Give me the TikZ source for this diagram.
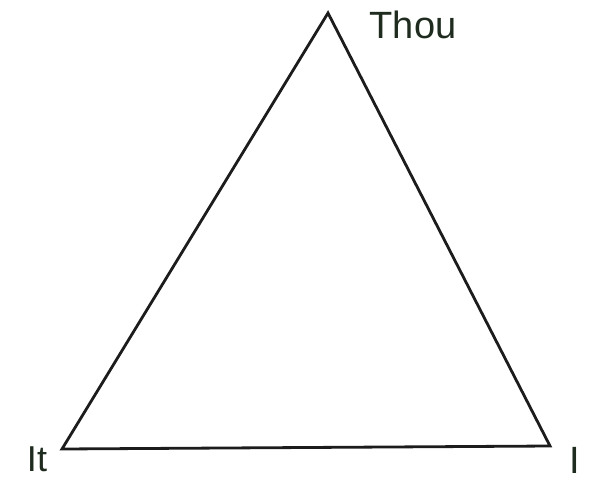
\documentclass[tikz,border=0pt]{standalone}
\usepackage{fontspec}
\setmainfont{Liberation Sans}
\definecolor{ink}{HTML}{1C1C1C}
\definecolor{penink}{HTML}{1E2B1E}
\begin{document}
\begin{tikzpicture}[x=1pt,y=-1pt,
  edge/.style={draw=ink,line width=2.8pt,line join=miter},
  lbl/.style={text=penink,font=\fontsize{38}{40}\selectfont,inner sep=0pt,anchor=center}]
\useasboundingbox[fill=white] (0,0) rectangle (597,482);
\coordinate (thou) at (328,13);
\coordinate (it) at (62,449);
\coordinate (i) at (550,446);
\draw[edge] (thou) -- (it) -- (i) -- cycle;
\node[lbl] (tthou) at (413,25) {Thou};
\node[lbl,font=\fontsize{36}{38}\selectfont] (tit) at (37,459) {It};
\node[lbl] (ti) at (575,460) {I};
\end{tikzpicture}
\end{document}
